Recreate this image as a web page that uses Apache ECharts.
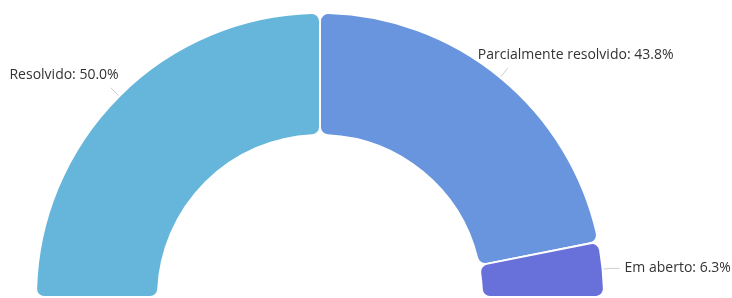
<!DOCTYPE html>
<html>
<head>
<meta charset="utf-8">
<script src="https://cdn.jsdelivr.net/npm/echarts@6/dist/echarts.min.js"></script>
<style>
  html, body { margin: 0; padding: 0; background: #fff; }
  #main { width: 732px; height: 298px; }
</style>
</head>
<body>
<div id="main"></div>
<script>
const categories = ['Resolvido', 'Parcialmente resolvido', 'Em aberto']
const counts = [8, 7, 1]
const colors = ['#66b6db', '#6895de', '#6870da']

// label nudges so text sits above the short leader line
const labelShift = [[13, -13], [-35, -13], [0, 0]]

const chart = echarts.init(document.getElementById('main'))

let option = {
  backgroundColor: '#ffffff',
  animation: false,
  series: [
    {
      type: 'pie',
      center: [320, 297],
      radius: [162, 284],
      startAngle: 180,
      endAngle: 360,
      clockwise: true,
      itemStyle: {
        borderColor: '#ffffff',
        borderWidth: 2,
        borderRadius: 8
      },
      label: {
        show: true,
        color: '#333',
        fontFamily: 'Open Sans',
        fontSize: 14,
        overflow: 'none',
        formatter: p => p.name + ': ' + p.percent.toFixed(1) + '%'
      },
      labelLine: {
        length: 12,
        length2: 0,
        lineStyle: { color: '#cccccc' }
      },
      labelLayout: p => ({ dx: labelShift[p.dataIndex][0], dy: labelShift[p.dataIndex][1] }),
      data: categories.map((c, i) => ({
        name: c,
        value: counts[i],
        itemStyle: { color: colors[i] },
        labelLine: i === 2 ? { length: 8, length2: 9 } : undefined
      }))
    }
  ]
}
option && chart.setOption(option)
</script>
</body>
</html>
